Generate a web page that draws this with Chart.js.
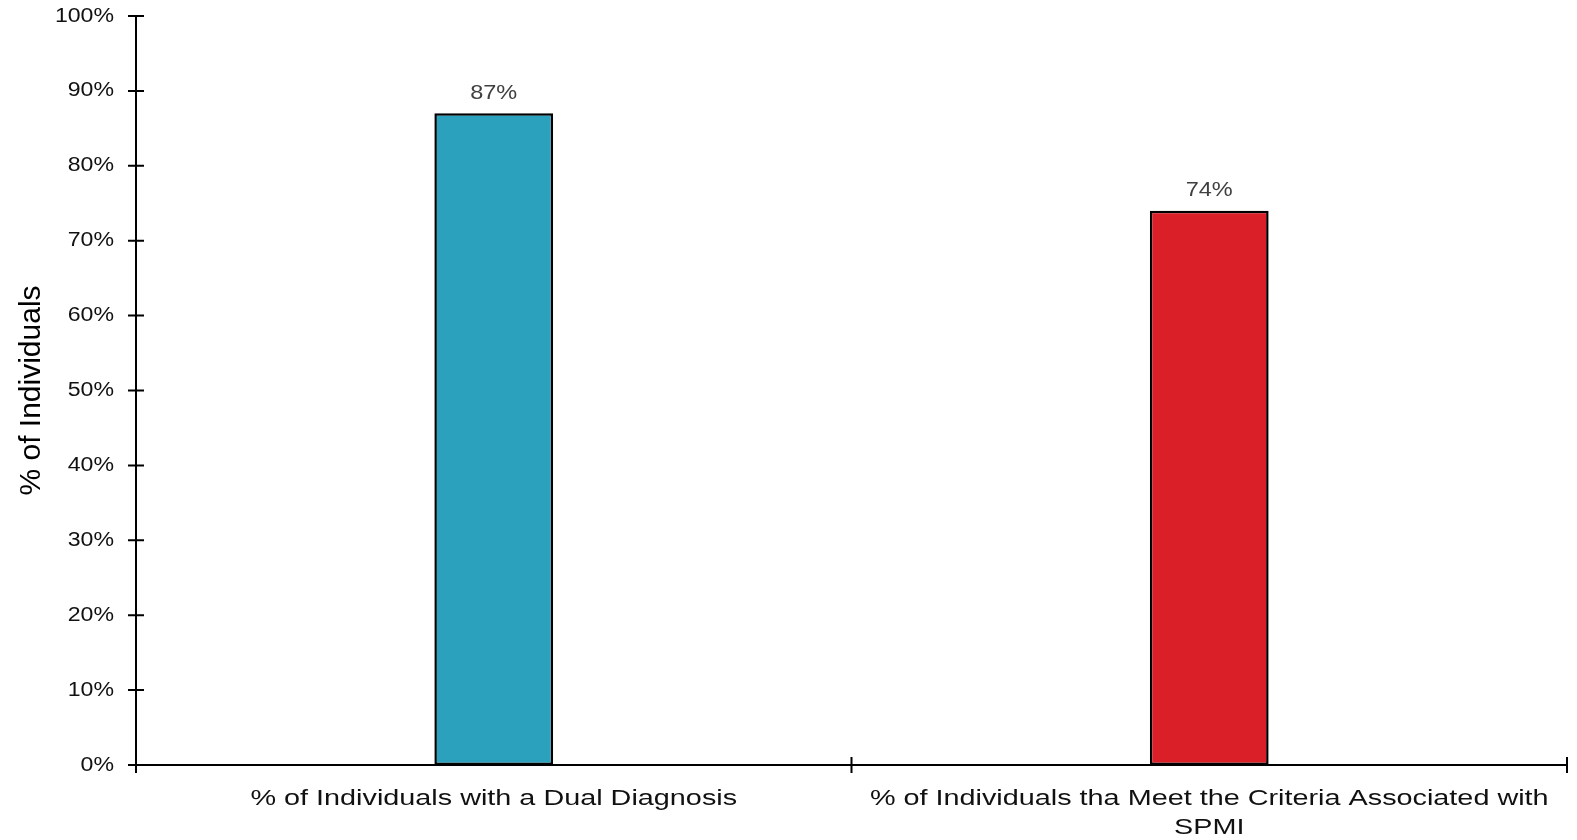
<!DOCTYPE html>
<html>
<head>
<meta charset="utf-8">
<script src="https://cdn.jsdelivr.net/npm/chart.js@4"></script>
<style>
  html, body { margin: 0; padding: 0; background: #fff; }
  #wrap { width: 1577px; height: 840px; position: relative; }
</style>
</head>
<body>
<div id="wrap"><canvas id="chart"></canvas></div>
<script>
const categories = [
    '% of Individuals with a Dual Diagnosis',
    ['% of Individuals tha Meet the Criteria Associated with', 'SPMI']
];
const percentValues = [87, 74];
const barColors = ['#2CA1BE', '#DA1F28'];
const yTickValues = [0, 10, 20, 30, 40, 50, 60, 70, 80, 90, 100];

const FONT = '"Liberation Sans", Arial, sans-serif';

// the source picture has its text stretched sideways; draw text with a horizontal scale
function stretchedFillText(ctx, sx, draw) {
    const orig = ctx.fillText;
    ctx.fillText = function (text, x, y, maxWidth) {
        this.save();
        this.translate(x, y);
        this.scale(sx, 1);
        if (maxWidth === undefined) orig.call(this, text, 0, 0);
        else orig.call(this, text, 0, 0, maxWidth / sx);
        this.restore();
    };
    try { draw(); } finally { ctx.fillText = orig; }
}

// value labels above the bars
const valueLabels = {
    id: 'valueLabels',
    afterDatasetsDraw(chart) {
        const ctx = chart.ctx;
        const meta = chart.getDatasetMeta(0);
        ctx.save();
        ctx.fillStyle = '#404040';
        ctx.font = '21px ' + FONT;
        ctx.textAlign = 'center';
        ctx.textBaseline = 'bottom';
        stretchedFillText(ctx, 1.12, () => {
            meta.data.forEach((bar, i) => {
                ctx.fillText(percentValues[i] + '%', bar.x, bar.y - 10);
            });
        });
        ctx.restore();
    }
};

const stretchedLabels = {
    id: 'stretchedLabels',
    beforeDraw(chart) {
        [['x', 1.28], ['y', 1.155]].forEach(([id, sx]) => {
            const scale = chart.scales[id];
            if (scale._stretched) return;
            const orig = scale.drawLabels.bind(scale);
            scale.drawLabels = function (area) {
                stretchedFillText(this.ctx, sx, () => orig(area));
            };
            scale._stretched = true;
        });
    }
};

// tick marks that cross the axis lines
const crossTicks = {
    id: 'crossTicks',
    afterDraw(chart) {
        const ctx = chart.ctx;
        const x = chart.scales.x, y = chart.scales.y;
        const len = 8;
        ctx.save();
        ctx.strokeStyle = '#000';
        ctx.lineWidth = 2;
        ctx.beginPath();
        yTickValues.forEach(v => {
            const py = y.getPixelForValue(v);
            ctx.moveTo(x.left - len, py);
            ctx.lineTo(x.left + len, py);
        });
        const n = categories.length;
        for (let i = 0; i <= n; i++) {
            const px = x.left + (x.right - x.left) * i / n;
            ctx.moveTo(px, y.bottom - len);
            ctx.lineTo(px, y.bottom + len);
        }
        ctx.stroke();
        ctx.restore();
    }
};

new Chart(document.getElementById('chart'), {
    type: 'bar',
    data: {
        labels: categories,
        datasets: [{
            data: percentValues,
            backgroundColor: barColors,
            borderColor: '#000',
            borderWidth: 2.5,
            borderSkipped: false,
            categoryPercentage: 1,
            barPercentage: 0.166
        }]
    },
    options: {
        responsive: true,
        maintainAspectRatio: false,
        animation: false,
        layout: { padding: { top: 0, right: 10, left: 0, bottom: 0 } },
        plugins: {
            legend: { display: false },
            tooltip: { enabled: false }
        },
        scales: {
            x: {
                grid: { display: false, drawTicks: false },
                border: { display: true, color: '#000', width: 2 },
                ticks: {
                    color: '#111',
                    padding: 19,
                    maxRotation: 0,
                    font: { family: FONT, size: 22.5, lineHeight: 1.3 }
                },
                afterFit(scale) { scale.height = 75; }
            },
            y: {
                min: 0,
                max: 100,
                grid: { display: false, drawTicks: false },
                border: { display: true, color: '#000', width: 2 },
                afterBuildTicks(scale) {
                    scale.ticks = yTickValues.map(v => ({ value: v }));
                },
                ticks: {
                    color: '#111',
                    padding: 22,
                    callback: v => v + '%',
                    font: { family: FONT, size: 20 }
                },
                title: {
                    display: true,
                    text: '% of Individuals',
                    color: '#000',
                    padding: { top: 14, bottom: 0 },
                    font: { family: FONT, size: 30 }
                },
                afterFit(scale) {
                    scale.width = 136;
                    scale.paddingTop = 16;
                }
            }
        }
    },
    plugins: [valueLabels, stretchedLabels, crossTicks]
});
</script>
</body>
</html>
